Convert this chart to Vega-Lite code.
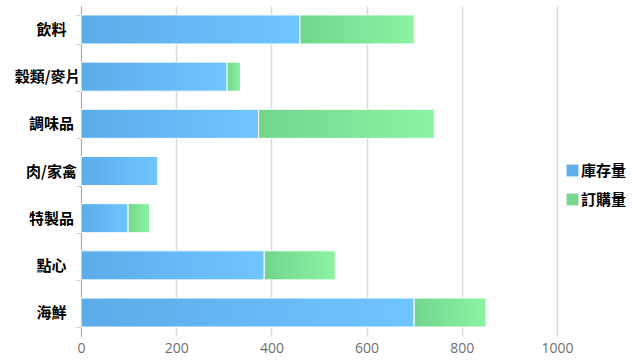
{
  "$schema": "https://vega.github.io/schema/vega-lite/v6.json",
  "width": 476,
  "height": 330,
  "autosize": {"type": "none"},
  "padding": {"left": 81, "top": 6, "right": 75, "bottom": 24},
  "background": "white",
  "data": {
    "values": [
      {"cat": "飲料", "series": "庫存量", "value": 460},
      {"cat": "飲料", "series": "訂購量", "value": 240},
      {"cat": "穀類/麥片", "series": "庫存量", "value": 307},
      {"cat": "穀類/麥片", "series": "訂購量", "value": 28},
      {"cat": "調味品", "series": "庫存量", "value": 373},
      {"cat": "調味品", "series": "訂購量", "value": 369},
      {"cat": "肉/家禽", "series": "庫存量", "value": 162},
      {"cat": "肉/家禽", "series": "訂購量", "value": 0},
      {"cat": "特製品", "series": "庫存量", "value": 99},
      {"cat": "特製品", "series": "訂購量", "value": 45},
      {"cat": "點心", "series": "庫存量", "value": 385},
      {"cat": "點心", "series": "訂購量", "value": 149},
      {"cat": "海鮮", "series": "庫存量", "value": 700},
      {"cat": "海鮮", "series": "訂購量", "value": 151}
    ]
  },
  "transform": [
    {"stack": "value", "groupby": ["cat"], "sort": [{"field": "series", "order": "ascending"}], "as": ["v0", "v1"]}
  ],
  "encoding": {
    "y": {
      "field": "cat", "type": "nominal",
      "sort": ["飲料", "穀類/麥片", "調味品", "肉/家禽", "特製品", "點心", "海鮮"],
      "scale": {"paddingInner": 0.385, "paddingOuter": 0.19},
      "axis": {
        "title": null,
        "domain": true, "domainColor": "#aaaaaa", "domainWidth": 1,
        "ticks": true, "tickBand": "extent", "tickColor": "#d0d0d0", "tickSize": 5, "tickWidth": 1,
        "grid": false,
        "labelFont": "Noto Sans CJK TC", "labelFontSize": 15, "labelFontWeight": "bold", "labelColor": "#000000",
        "labelAlign": {"condition": {"test": "datum.label == '穀類/麥片'", "value": "right"}, "value": "center"},
        "labelPadding": {"condition": {"test": "datum.label == '穀類/麥片'", "value": -4}, "value": 25}
      }
    },
    "x": {
      "field": "v0", "type": "quantitative",
      "scale": {"domain": [0, 1000], "nice": false},
      "axis": {
        "title": null, "values": [0, 200, 400, 600, 800, 1000], "format": "d",
        "domain": false, "ticks": false, "labelFlush": false, "labelOverlap": false,
        "grid": true, "gridColor": "#d9d9d9", "gridWidth": 1.5,
        "labelFont": "Open Sans", "labelFontSize": 14, "labelColor": "#6e6e6e", "labelPadding": 5
      }
    },
    "x2": {"field": "v1"}
  },
  "layer": [
    {
      "mark": {"type": "bar"},
      "encoding": {
        "color": {
          "field": "series", "type": "nominal",
          "scale": {"domain": ["庫存量", "訂購量"], "range": ["#5FAEEA", "#77D98F"]},
          "legend": {
            "title": null, "orient": "none", "legendX": 484, "legendY": 157,
            "symbolType": "square", "symbolSize": 140, "symbolStrokeWidth": 0, "symbolOpacity": 1,
            "labelFont": "Noto Sans CJK TC", "labelFontSize": 15, "labelFontWeight": "bold", "labelColor": "#000000",
            "labelOffset": 1, "rowPadding": 13
          }
        }
      }
    },
    {
      "transform": [{"filter": "datum.series == '庫存量'"}],
      "mark": {
        "type": "bar", "stroke": "#ffffff", "strokeWidth": 1,
        "fill": {"gradient": "linear", "x1": 0, "y1": 0, "x2": 1, "y2": 0,
          "stops": [{"offset": 0, "color": "#5BACE8"}, {"offset": 1, "color": "#6FC5FF"}]}
      }
    },
    {
      "transform": [{"filter": "datum.series == '訂購量'"}],
      "mark": {
        "type": "bar", "stroke": "#ffffff", "strokeWidth": 1,
        "fill": {"gradient": "linear", "x1": 0, "y1": 0, "x2": 1, "y2": 0,
          "stops": [{"offset": 0, "color": "#72D58C"}, {"offset": 1, "color": "#8BF4A3"}]}
      }
    }
  ],
  "config": {"view": {"stroke": null}}
}
